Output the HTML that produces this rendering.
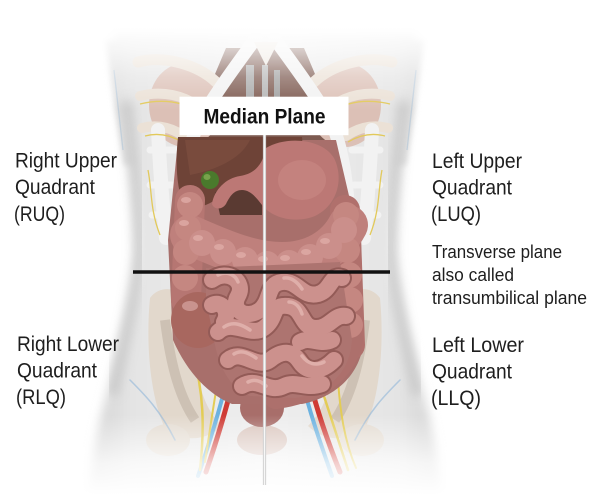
<!DOCTYPE html>
<html><head><meta charset="utf-8"><style>
html,body{margin:0;padding:0;background:#fff;}
svg{display:block}
text{font-family:"Liberation Sans",Arial,sans-serif;fill:#1e1e1e;}
</style></head><body>
<svg width="600" height="504" viewBox="0 0 600 504" xmlns="http://www.w3.org/2000/svg">
<defs>
 <linearGradient id="tg" x1="88" x2="442" y1="0" y2="0" gradientUnits="userSpaceOnUse">
  <stop offset="0" stop-color="#d2d2d2"/>
  <stop offset="0.12" stop-color="#e4e4e4"/>
  <stop offset="0.5" stop-color="#eeeeee"/>
  <stop offset="0.88" stop-color="#e4e4e4"/>
  <stop offset="1" stop-color="#d2d2d2"/>
 </linearGradient>
 <linearGradient id="topfade" x1="0" x2="0" y1="0" y2="110" gradientUnits="userSpaceOnUse">
  <stop offset="0" stop-color="#fff" stop-opacity="1"/>
  <stop offset="0.25" stop-color="#fff" stop-opacity="0.95"/>
  <stop offset="0.45" stop-color="#fff" stop-opacity="0.7"/>
  <stop offset="0.7" stop-color="#fff" stop-opacity="0.3"/>
  <stop offset="1" stop-color="#fff" stop-opacity="0"/>
 </linearGradient>
 <linearGradient id="botfade" x1="0" x2="0" y1="415" y2="495" gradientUnits="userSpaceOnUse">
  <stop offset="0" stop-color="#fff" stop-opacity="0"/>
  <stop offset="0.6" stop-color="#fff" stop-opacity="0.75"/>
  <stop offset="1" stop-color="#fff" stop-opacity="1"/>
 </linearGradient>
 <filter id="blur3"><feGaussianBlur stdDeviation="3"/></filter>
 <filter id="blur5"><feGaussianBlur stdDeviation="5"/></filter>
</defs>

<!-- arms -->
<path d="M106,40 C110,75 116,115 124,165 L140,165 C132,110 126,65 124,40 Z" fill="#e0e0e0" filter="url(#blur3)"/>
<path d="M424,40 C420,75 414,115 406,165 L390,165 C398,110 404,65 406,40 Z" fill="#e0e0e0" filter="url(#blur3)"/>
<path d="M114,70 L123,150" stroke="#8fb6d8" stroke-width="1.3" fill="none" opacity="0.5"/>
<path d="M416,70 L407,150" stroke="#8fb6d8" stroke-width="1.3" fill="none" opacity="0.5"/>

<!-- torso -->
<path d="M114,32 C117,85 126,130 133,180 C137,215 139,240 136,270 C128,310 112,370 100,420 C94,450 90,480 88,504 L442,504 C440,480 436,450 430,420 C418,370 402,310 394,270 C391,240 393,215 397,180 C404,130 413,85 416,32 Z" fill="url(#tg)" filter="url(#blur5)"/>
<path d="M126,100 C132,150 138,200 139,250 C137,285 126,335 112,395" stroke="#c6c6c6" stroke-width="12" fill="none" filter="url(#blur5)" opacity="0.8"/>
<path d="M404,100 C398,150 392,200 391,250 C393,285 404,335 418,395" stroke="#c6c6c6" stroke-width="12" fill="none" filter="url(#blur5)" opacity="0.8"/>

<!-- chest interior -->
<path d="M226,48 L304,48 L326,100 L332,140 L198,140 L204,100 Z" fill="#7d5a50"/>
<ellipse cx="185" cy="105" rx="36" ry="42" fill="#dcc0b6"/>
<ellipse cx="345" cy="105" rx="36" ry="42" fill="#dcc0b6"/>
<rect x="246" y="65" width="8" height="35" fill="#a9a9a9"/>
<rect x="262" y="65" width="6" height="35" fill="#b5b5b5"/>
<rect x="274" y="70" width="6" height="30" fill="#a0a0a0"/>

<!-- ribs -->
<g fill="none" stroke="#ebe1d6" stroke-linecap="round">
 <path d="M138,62 C165,55 198,65 216,82" stroke-width="11"/>
 <path d="M140,96 C163,90 184,96 198,106" stroke-width="10"/>
 <path d="M142,128 C158,124 172,128 184,136" stroke-width="10"/>
 <path d="M392,62 C365,55 332,65 314,82" stroke-width="11"/>
 <path d="M390,96 C367,90 346,96 332,106" stroke-width="10"/>
 <path d="M388,128 C372,124 358,128 346,136" stroke-width="10"/>
</g>
<g fill="none" stroke="#f2f2f2" stroke-linecap="round">
 <path d="M256,38 C240,60 214,95 200,120 C190,140 183,170 180,230" stroke-width="13"/>
 <path d="M274,38 C290,60 316,95 330,120 C340,140 347,170 350,230" stroke-width="13"/>
 <path d="M158,130 C160,170 162,200 166,238" stroke-width="14"/>
 <path d="M372,130 C370,170 368,200 364,238" stroke-width="14"/>
 <path d="M150,150 L178,150 M150,185 L176,185 M152,215 L176,215" stroke-width="7"/>
 <path d="M380,150 L352,150 M380,185 L354,185 M378,215 L354,215" stroke-width="7"/>
</g>
<g fill="none" stroke="#e2c95a" stroke-width="1.3">
 <path d="M140,104 C165,98 185,103 200,112"/>
 <path d="M145,136 C160,132 172,136 182,142"/>
 <path d="M148,170 C152,190 150,210 160,235"/>
 <path d="M390,104 C365,98 345,103 330,112"/>
 <path d="M385,136 C370,132 358,136 348,142"/>
 <path d="M382,170 C378,190 380,210 370,235"/>
</g>
<polygon points="254,42 278,42 266,66" fill="#ece6de"/>

<!-- pelvis -->
<path d="M150,298 C160,284 180,288 190,300 L196,360 C199,390 206,410 222,426 C206,442 180,442 165,428 C152,402 145,350 150,298 Z" fill="#e2d8cc"/>
<path d="M380,298 C370,284 350,288 340,300 L334,360 C331,390 324,410 308,426 C324,442 350,442 365,428 C378,402 385,350 380,298 Z" fill="#e2d8cc"/>
<path d="M165,320 C170,360 178,395 195,420" stroke="#cdc1b4" stroke-width="10" fill="none"/>
<path d="M365,320 C360,360 352,395 335,420" stroke="#cdc1b4" stroke-width="10" fill="none"/>
<ellipse cx="168" cy="440" rx="22" ry="16" fill="#e4dcd2"/>
<ellipse cx="362" cy="440" rx="22" ry="16" fill="#e4dcd2"/>

<!-- vessels & nerves -->
<g fill="none" stroke-linecap="round">
 <path d="M240,350 C233,385 222,425 206,472" stroke="#cf3b35" stroke-width="5"/>
 <path d="M233,352 C226,388 214,430 198,476" stroke="#6cb2e0" stroke-width="4"/>
 <path d="M300,372 C308,408 320,442 332,476" stroke="#6cb2e0" stroke-width="4"/>
 <path d="M307,370 C315,405 327,440 340,472" stroke="#cf3b35" stroke-width="5"/>
 <path d="M194,358 C203,392 205,425 200,470" stroke="#e3cc55" stroke-width="2.5"/>
 <path d="M220,368 C214,400 210,430 205,462" stroke="#e3cc55" stroke-width="2"/>
 <path d="M322,390 C332,420 340,445 348,470" stroke="#e3cc55" stroke-width="2.5"/>
 <path d="M338,380 C340,410 344,440 356,468" stroke="#e3cc55" stroke-width="2"/>
 <path d="M130,380 C145,395 160,410 175,440" stroke="#8fb6d8" stroke-width="1.5" opacity="0.6"/>
 <path d="M400,380 C385,395 370,410 355,440" stroke="#8fb6d8" stroke-width="1.5" opacity="0.6"/>
</g>

<!-- bladder / rectum -->
<ellipse cx="262" cy="440" rx="25" ry="15" fill="#dbc7bf"/>
<ellipse cx="262" cy="408" rx="22" ry="19" fill="#a86e6a"/>

<!-- organ shadow backdrop -->
<path d="M178,140 L336,140 L350,200 L361,240 L364,340 C360,378 332,398 302,404 L232,404 C207,394 186,370 173,340 L168,240 Z" fill="#a86f6b"/>

<!-- liver -->
<path d="M178,137 L302,137 C304,150 294,160 274,165 C263,168 258,175 250,178 C235,182 225,192 215,200 C205,207 192,210 184,205 C177,190 175,165 178,137 Z" fill="#6e4337"/>
<path d="M185,140 L250,140 C240,160 215,170 190,175 Z" fill="#7d4e40" opacity="0.7"/>
<path d="M215,192 L262,182 L262,215 L220,215 Z" fill="#5a3a32"/>

<!-- stomach -->
<path d="M266,148 C285,136 322,138 334,158 C344,178 338,205 315,216 C295,224 272,218 262,205 C256,197 250,190 242,190 C234,190 230,196 226,204 C222,210 214,210 212,204 C214,190 226,178 240,176 C252,174 262,168 266,148 Z" fill="#bc7875"/>
<ellipse cx="302" cy="180" rx="24" ry="20" fill="#c98884" opacity="0.6"/>

<!-- gallbladder -->
<ellipse cx="210" cy="180" rx="9" ry="9" fill="#4a7a2c"/>
<ellipse cx="207" cy="177" rx="3.5" ry="3" fill="#78a24c"/>

<!-- colon -->
<g fill="none" stroke-linecap="round">
 <path d="M190,200 L186,300" stroke="#b67672" stroke-width="30"/>
 <path d="M345,210 L350,345" stroke="#b0706c" stroke-width="30"/>
 <path d="M350,340 C342,378 305,392 276,396" stroke="#ad706c" stroke-width="26"/>
 <path d="M190,235 C220,248 250,262 282,262 C312,262 336,248 348,225" stroke="#bf807c" stroke-width="40"/>
</g>
<g fill="#c58781">
 <circle cx="190" cy="205" r="13"/><circle cx="188" cy="228" r="13"/><circle cx="186" cy="252" r="13"/><circle cx="185" cy="278" r="13"/>
 <circle cx="346" cy="215" r="13"/><circle cx="347" cy="250" r="13"/><circle cx="349" cy="275" r="13"/><circle cx="350" cy="300" r="13"/><circle cx="350" cy="325" r="13"/>
</g>
<g fill="#cb8f8b">
 <circle cx="202" cy="243" r="13"/><circle cx="223" cy="252" r="13"/><circle cx="245" cy="260" r="13"/><circle cx="267" cy="264" r="13"/>
 <circle cx="289" cy="263" r="13"/><circle cx="310" cy="257" r="13"/><circle cx="329" cy="246" r="13"/><circle cx="344" cy="230" r="13"/>
</g>
<g fill="#e0aca7" opacity="0.8">
 <ellipse cx="198" cy="238" rx="5" ry="3"/><ellipse cx="219" cy="247" rx="5" ry="3"/><ellipse cx="241" cy="255" rx="5" ry="3"/><ellipse cx="263" cy="259" rx="5" ry="3"/>
 <ellipse cx="285" cy="258" rx="5" ry="3"/><ellipse cx="306" cy="252" rx="5" ry="3"/><ellipse cx="325" cy="241" rx="5" ry="3"/>
 <ellipse cx="186" cy="200" rx="5" ry="3"/><ellipse cx="184" cy="223" rx="5" ry="3"/>
</g>
<ellipse cx="198" cy="320" rx="27" ry="28" fill="#a8675f"/>
<ellipse cx="190" cy="306" rx="8" ry="5" fill="#c9938e"/>

<!-- small intestine -->
<path d="M206,268 L340,262 L352,340 C350,375 325,394 295,398 L250,396 C232,390 220,370 215,345 L206,300 Z" fill="#ad7470"/>
<g fill="none" stroke-linecap="round" stroke-linejoin="round">
 <g stroke="#935b57" stroke-width="20">
  <path d="M212,280 C228,268 246,282 238,296 C230,310 246,320 260,310 C272,300 266,284 282,282 C298,280 302,298 318,294 C332,290 330,274 342,278"/>
  <path d="M218,332 C232,318 250,338 264,328 C278,318 270,304 288,306 C304,308 300,328 316,328 C330,328 334,314 346,316"/>
  <path d="M228,360 C242,348 256,370 270,360 C282,350 292,350 300,362 C308,374 322,372 334,360"/>
  <path d="M242,386 C258,376 268,394 284,386 C296,380 306,390 322,384"/>
  <path d="M212,305 C222,300 230,312 224,322"/>
  <path d="M300,342 C310,336 320,346 332,340"/>
 </g>
 <g stroke="#cc918d" stroke-width="16">
  <path d="M212,280 C228,268 246,282 238,296 C230,310 246,320 260,310 C272,300 266,284 282,282 C298,280 302,298 318,294 C332,290 330,274 342,278"/>
  <path d="M218,332 C232,318 250,338 264,328 C278,318 270,304 288,306 C304,308 300,328 316,328 C330,328 334,314 346,316"/>
  <path d="M228,360 C242,348 256,370 270,360 C282,350 292,350 300,362 C308,374 322,372 334,360"/>
  <path d="M242,386 C258,376 268,394 284,386 C296,380 306,390 322,384"/>
  <path d="M212,305 C222,300 230,312 224,322"/>
  <path d="M300,342 C310,336 320,346 332,340"/>
 </g>
 <g stroke="#e6b9b4" stroke-width="3.5" opacity="0.75">
  <path d="M218,275 C228,270 236,276 238,282"/>
  <path d="M284,278 C292,277 298,283 302,289"/>
  <path d="M224,327 C234,320 244,326 250,330"/>
  <path d="M289,302 C296,302 300,308 302,314"/>
  <path d="M234,354 C242,349 250,354 256,358"/>
  <path d="M302,356 C308,364 316,366 324,362"/>
  <path d="M248,382 C256,378 262,382 266,386"/>
 </g>
</g>

<!-- fades -->
<rect x="0" y="0" width="600" height="110" fill="url(#topfade)"/>
<rect x="0" y="415" width="600" height="89" fill="url(#botfade)"/>

<!-- median plane -->
<line x1="264.5" y1="135" x2="264.5" y2="485" stroke="#c9c9c9" stroke-width="3.2"/>
<line x1="264.5" y1="135" x2="264.5" y2="485" stroke="#f7f7f7" stroke-width="1.6"/>
<rect x="179.5" y="96.7" width="169" height="38.5" fill="#ffffff"/>
<text x="203.5" y="123.5" font-size="21" font-weight="bold" textLength="122" lengthAdjust="spacingAndGlyphs" style="fill:#111">Median Plane</text>

<!-- transverse plane -->
<line x1="133" y1="272" x2="390" y2="272" stroke="#111" stroke-width="3.4"/>

<!-- labels -->
<text x="15" y="167.5" font-size="21" textLength="102" lengthAdjust="spacingAndGlyphs">Right Upper</text>
<text x="15" y="194" font-size="21" textLength="80" lengthAdjust="spacingAndGlyphs">Quadrant</text>
<text x="14" y="221" font-size="21" textLength="51" lengthAdjust="spacingAndGlyphs">(RUQ)</text>

<text x="432" y="168" font-size="21" textLength="90" lengthAdjust="spacingAndGlyphs">Left Upper</text>
<text x="432" y="194.5" font-size="21" textLength="80" lengthAdjust="spacingAndGlyphs">Quadrant</text>
<text x="431" y="221" font-size="21" textLength="50" lengthAdjust="spacingAndGlyphs">(LUQ)</text>

<text x="432" y="258" font-size="18" textLength="130" lengthAdjust="spacingAndGlyphs">Transverse plane</text>
<text x="432" y="281" font-size="18" textLength="82" lengthAdjust="spacingAndGlyphs">also called</text>
<text x="432" y="304" font-size="18" textLength="155" lengthAdjust="spacingAndGlyphs">transumbilical plane</text>

<text x="17" y="351" font-size="21" textLength="102" lengthAdjust="spacingAndGlyphs">Right Lower</text>
<text x="17" y="377.5" font-size="21" textLength="80" lengthAdjust="spacingAndGlyphs">Quadrant</text>
<text x="16" y="404" font-size="21" textLength="50" lengthAdjust="spacingAndGlyphs">(RLQ)</text>

<text x="432" y="352" font-size="21" textLength="92" lengthAdjust="spacingAndGlyphs">Left Lower</text>
<text x="432" y="378.5" font-size="21" textLength="80" lengthAdjust="spacingAndGlyphs">Quadrant</text>
<text x="431" y="405" font-size="21" textLength="50" lengthAdjust="spacingAndGlyphs">(LLQ)</text>
</svg>
</body></html>
